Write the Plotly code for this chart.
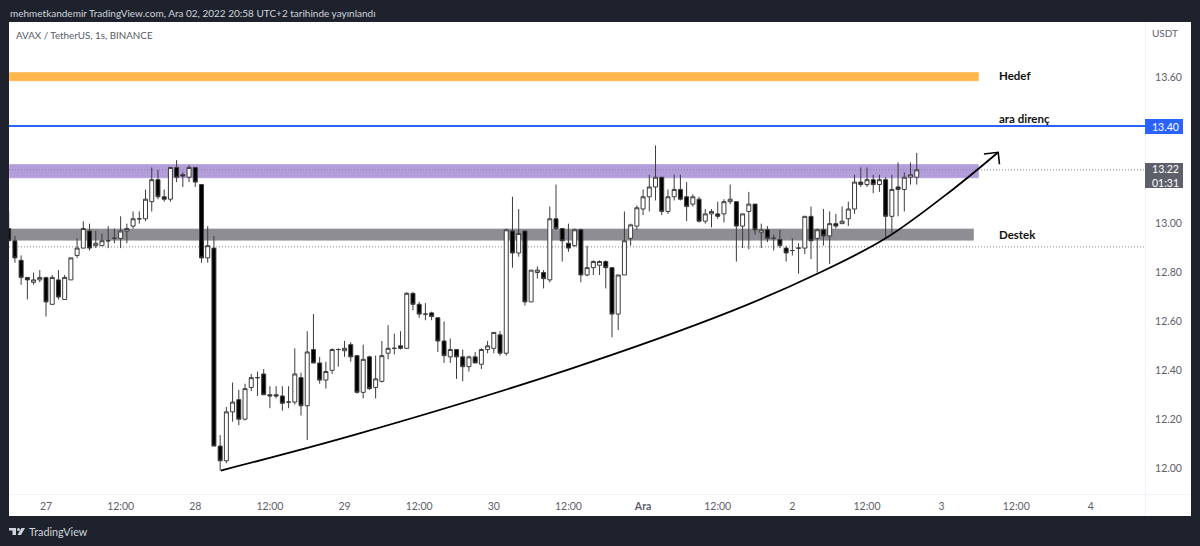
import pandas as pd
import plotly.graph_objects as go

# hourly candles, first one is 26 Nov 18:00
start_time = "2022-11-26 18:00"

opens = [
    12.98, 12.93, 12.85, 12.78, 12.76, 12.77,
    12.78, 12.67, 12.77, 12.69, 12.77, 12.87, 12.90, 12.97, 12.91, 12.91,
    12.93, 12.94, 12.94, 12.97, 12.99, 13.02, 13.02, 13.09, 13.18, 13.11,
    13.10, 13.23, 13.20, 13.19, 13.23, 13.16, 12.86, 12.90, 12.09, 12.03,
    12.23, 12.28, 12.20, 12.33, 12.37, 12.385, 12.30, 12.30, 12.295, 12.27,
    12.27, 12.37, 12.255, 12.485, 12.43, 12.36, 12.40, 12.485, 12.48, 12.505,
    12.46, 12.31, 12.455, 12.33, 12.355, 12.47, 12.49, 12.50, 12.49, 12.715,
    12.67, 12.63, 12.635, 12.615, 12.52, 12.455, 12.485, 12.455, 12.415, 12.455,
    12.425, 12.485, 12.49, 12.545, 12.47, 12.97, 12.88, 12.97, 12.68, 12.80,
    12.80, 12.77, 13.02, 12.98, 12.92, 12.91, 12.975, 12.79, 12.82, 12.83,
    12.845, 12.82, 12.63, 12.79, 12.94, 12.99, 13.06, 13.11, 13.15, 13.19,
    13.05, 13.11, 13.14, 13.11, 13.08, 13.10, 13.01, 13.04, 13.04, 13.04,
    13.09, 13.09, 12.99, 13.05, 13.08, 12.965, 12.975, 12.94, 12.935, 12.90,
    12.89, 12.90, 12.90, 13.03, 12.94, 12.975, 12.95, 13.00, 13.00, 13.02,
    13.06, 13.17, 13.16, 13.18, 13.16, 13.18, 13.03, 13.15, 13.14, 13.19,
    13.19,
]
highs = [
    13.05, 12.95, 12.87, 12.78, 12.80, 12.81,
    12.78, 12.79, 12.81, 12.79, 12.86, 12.94, 13.01, 13.00, 12.97, 12.96,
    12.99, 12.98, 13.03, 13.00, 13.05, 13.05, 13.14, 13.23, 13.22, 13.14,
    13.23, 13.26, 13.21, 13.24, 13.23, 13.16, 12.99, 12.95, 12.135, 12.25,
    12.35, 12.32, 12.345, 12.385, 12.395, 12.405, 12.335, 12.335, 12.335, 12.335,
    12.49, 12.39, 12.56, 12.63, 12.455, 12.435, 12.49, 12.49, 12.52, 12.515,
    12.46, 12.505, 12.46, 12.46, 12.52, 12.585, 12.55, 12.56, 12.72, 12.72,
    12.68, 12.675, 12.64, 12.615, 12.60, 12.53, 12.485, 12.485, 12.46, 12.475,
    12.49, 12.52, 12.555, 12.56, 12.98, 13.11, 13.06, 12.97, 12.81, 12.825,
    12.81, 13.07, 13.16, 12.98, 13.00, 12.98, 12.98, 12.91, 12.85, 12.85,
    12.85, 12.82, 12.79, 13.05, 13.00, 13.075, 13.14, 13.20, 13.32, 13.19,
    13.14, 13.20, 13.20, 13.17, 13.12, 13.11, 13.06, 13.06, 13.09, 13.10,
    13.16, 13.09, 13.04, 13.13, 13.08, 13.00, 12.99, 12.955, 12.975, 12.91,
    12.94, 12.92, 13.03, 13.07, 12.98, 13.06, 13.05, 13.04, 13.07, 13.09,
    13.20, 13.23, 13.23, 13.20, 13.20, 13.19, 13.20, 13.25, 13.21, 13.25,
    13.29,
]
lows = [
    12.93, 12.84, 12.75, 12.69, 12.75, 12.76,
    12.62, 12.67, 12.69, 12.69, 12.77, 12.86, 12.90, 12.89, 12.90, 12.91,
    12.90, 12.92, 12.90, 12.92, 12.98, 13.00, 13.01, 13.05, 13.10, 13.09,
    13.09, 13.17, 13.15, 13.17, 13.15, 12.84, 12.84, 12.09, 11.99, 12.02,
    12.19, 12.175, 12.195, 12.315, 12.295, 12.30, 12.245, 12.285, 12.235, 12.245,
    12.26, 12.215, 12.115, 12.43, 12.345, 12.325, 12.385, 12.415, 12.455, 12.435,
    12.305, 12.285, 12.32, 12.285, 12.35, 12.445, 12.465, 12.485, 12.49, 12.645,
    12.615, 12.605, 12.605, 12.475, 12.43, 12.43, 12.365, 12.355, 12.395, 12.43,
    12.405, 12.47, 12.47, 12.46, 12.46, 12.82, 12.865, 12.665, 12.68, 12.775,
    12.735, 12.76, 12.975, 12.845, 12.885, 12.905, 12.76, 12.785, 12.79, 12.79,
    12.735, 12.535, 12.565, 12.79, 12.91, 12.975, 13.035, 13.05, 13.095, 13.035,
    13.04, 13.095, 13.095, 13.01, 13.07, 13.005, 13.00, 12.985, 13.02, 13.005,
    13.08, 12.845, 12.90, 12.895, 12.955, 12.90, 12.925, 12.89, 12.90, 12.845,
    12.87, 12.795, 12.875, 12.855, 12.80, 12.91, 12.835, 12.98, 13.00, 12.99,
    13.04, 13.15, 13.15, 13.125, 13.13, 12.94, 12.96, 13.03, 13.05, 13.16,
    13.16,
]
closes = [
    12.93, 12.86, 12.78, 12.77, 12.77, 12.78,
    12.68, 12.78, 12.70, 12.78, 12.86, 12.90, 12.98, 12.90, 12.92, 12.93,
    12.93, 12.94, 12.97, 12.98, 13.02, 13.02, 13.10, 13.18, 13.11, 13.10,
    13.23, 13.19, 13.195, 13.23, 13.17, 12.86, 12.91, 12.09, 12.03, 12.23,
    12.27, 12.20, 12.325, 12.37, 12.37, 12.30, 12.295, 12.295, 12.265, 12.27,
    12.385, 12.255, 12.475, 12.43, 12.36, 12.395, 12.485, 12.485, 12.49, 12.455,
    12.31, 12.445, 12.325, 12.365, 12.46, 12.49, 12.49, 12.49, 12.715, 12.67,
    12.63, 12.63, 12.62, 12.52, 12.46, 12.485, 12.455, 12.415, 12.455, 12.43,
    12.485, 12.50, 12.555, 12.47, 12.975, 12.88, 12.96, 12.68, 12.81, 12.81,
    12.775, 13.02, 12.98, 12.93, 12.90, 12.975, 12.79, 12.82, 12.845, 12.845,
    12.82, 12.63, 12.79, 12.93, 12.995, 13.065, 13.11, 13.15, 13.19, 13.05,
    13.11, 13.14, 13.10, 13.07, 13.11, 13.01, 13.04, 13.05, 13.03, 13.09,
    13.10, 12.99, 13.04, 13.08, 12.975, 12.975, 12.94, 12.94, 12.91, 12.88,
    12.89, 12.90, 13.03, 12.93, 12.975, 12.95, 13.00, 12.99, 13.01, 13.06,
    13.17, 13.16, 13.18, 13.16, 13.18, 13.03, 13.14, 13.14, 13.19, 13.20,
    13.22,
]

# drawn levels on the chart
target_band = [13.583, 13.62]
resistance_band = [13.186, 13.244]
support_band = [12.93, 12.98]
resistance_line = 13.40
last_price = 13.22
prev_close = 12.905

# hand drawn curve and its arrow head
curve_times = [
    "2022-11-28 04:06", "2022-11-29 02:00", "2022-11-30 12:12", "2022-12-01 14:00",
    "2022-12-02 04:00", "2022-12-02 15:00", "2022-12-03 01:48", "2022-12-03 09:00",
]
curve_prices = [11.99, 12.139, 12.405, 12.64, 12.795, 12.94, 13.14, 13.29]
head_times = ["2022-12-03 06:48", "2022-12-03 09:06", "2022-12-03 09:18"]
head_prices = [13.285, 13.292, 13.243]

time_ticks = [
    "2022-11-27 00:00", "2022-11-27 12:00", "2022-11-28 00:00", "2022-11-28 12:00",
    "2022-11-29 00:00", "2022-11-29 12:00", "2022-11-30 00:00", "2022-11-30 12:00",
    "2022-12-01 00:00", "2022-12-01 12:00", "2022-12-02 00:00", "2022-12-02 12:00",
    "2022-12-03 00:00", "2022-12-03 12:00", "2022-12-04 00:00",
]
time_labels = [
    "27", "12:00", "28", "12:00", "29", "12:00", "30", "12:00",
    "<b>Ara</b>", "12:00", "2", "12:00", "3", "12:00", "4",
]
price_ticks = [12.0, 12.2, 12.4, 12.6, 12.8, 13.0, 13.6]
price_labels = ["12.00", "12.20", "12.40", "12.60", "12.80", "13.00", "13.60"]

x_range = ["2022-11-26 18:03", "2022-12-04 08:42"]
y_range = [11.894, 13.825]
band_end = "2022-12-03 06:00"
support_end = "2022-12-03 05:12"
note_time = "2022-12-03 08:54"

W, H = 1200, 546
LEFT, RIGHT, TOP, BOTTOM = 9, 1145, 22, 494
FONT = "Lato"
DARK = "#1e222d"


def px(x):
    return (x - LEFT) / (RIGHT - LEFT)


def py(y):
    return (BOTTOM - y) / (BOTTOM - TOP)


def label(text, x, y, color, size=10.5, anchor="left", **kw):
    return dict(
        text=text, xref="paper", yref="paper", x=px(x), y=py(y),
        xanchor=anchor, yanchor="middle", showarrow=False,
        font=dict(family=FONT, size=size, color=color), **kw
    )


def band(y_vals, color, end):
    return dict(
        type="rect", xref="x", yref="y", x0=x_range[0], x1=end,
        y0=y_vals[0], y1=y_vals[1], fillcolor=color,
        line=dict(color="rgba(255,255,255,0.35)", width=1), layer="below"
    )


def dotted(price):
    return dict(
        type="line", xref="x", yref="y", x0=x_range[0], x1=x_range[1],
        y0=price, y1=price, line=dict(color="#82858f", width=1, dash="1px,2px"),
        layer="below"
    )


def paper_rect(x0, y0, x1, y1, color, layer="below"):
    return dict(
        type="rect", xref="paper", yref="paper",
        x0=px(x0), x1=px(x1), y0=py(y0), y1=py(y1),
        fillcolor=color, line=dict(width=0), layer=layer
    )


times = pd.date_range(start_time, periods=len(opens), freq="h")

fig = go.Figure()

fig.add_trace(go.Candlestick(
    x=times, open=opens, high=highs, low=lows, close=closes,
    increasing=dict(line=dict(color="#3c3c3c", width=1), fillcolor="#ffffff"),
    decreasing=dict(line=dict(color="#3c3c3c", width=1), fillcolor="#000000"),
    whiskerwidth=0, showlegend=False, hoverinfo="skip"
))

fig.add_trace(go.Scatter(
    x=curve_times, y=curve_prices, mode="lines",
    line=dict(color="#000000", width=1.8, shape="spline"),
    showlegend=False, hoverinfo="skip"
))
fig.add_trace(go.Scatter(
    x=head_times, y=head_prices, mode="lines",
    line=dict(color="#000000", width=1.6),
    showlegend=False, hoverinfo="skip"
))
fig.add_trace(go.Scatter(
    x=x_range, y=[resistance_line, resistance_line], mode="lines",
    line=dict(color="#2962ff", width=2),
    showlegend=False, hoverinfo="skip"
))

shapes = [
    # white parts of the panel outside the plot area
    paper_rect(RIGHT, TOP, 1191, 516, "#ffffff"),
    paper_rect(LEFT, BOTTOM, 1191, 516, "#ffffff"),
    paper_rect(RIGHT, TOP, RIGHT + 1, 516, "#f0f3fa"),
    paper_rect(LEFT, BOTTOM, 1191, BOTTOM + 1, "#f0f3fa"),
    band(target_band, "#ffb74d", band_end),
    band(resistance_band, "#b39ddb", band_end),
    band(support_band, "#8d8d93", support_end),
    dotted(last_price),
    dotted(prev_close),
    # price tags on the axis
    paper_rect(RIGHT, 119, 1183, 134, "#2962ff", layer="above"),
    paper_rect(RIGHT, 163, 1183, 188, "#5d606b", layer="above"),
    # TradingView logo
    paper_rect(9, 528, 16, 530.5, "#d1d4dc", layer="above"),
    paper_rect(12.5, 528, 16, 535, "#d1d4dc", layer="above"),
    dict(
        type="circle", xref="paper", yref="paper",
        x0=px(17), x1=px(20), y0=py(531), y1=py(528),
        fillcolor="#d1d4dc", line=dict(width=0)
    ),
    dict(
        type="path", xref="paper", yref="paper",
        path=(
            f"M {px(21.5)} {py(528)} L {px(25)} {py(528)} "
            f"L {px(21)} {py(535)} L {px(17.5)} {py(535)} Z"
        ),
        fillcolor="#d1d4dc", line=dict(width=0)
    ),
]

annotations = [
    label("mehmetkandemir TradingView.com, Ara 02, 2022 20:58 UTC+2 tarihinde yayınlandı",
          8, 13, "#d1d4dc", size=10),
    label("AVAX / TetherUS, 1s, BINANCE", 14, 35, "#555a66", size=9.8),
    label("USDT", 1165, 33, "#5d606b", size=10, anchor="center"),
    label("13.40", 1165, 127, "#ffffff", size=10.5, anchor="center"),
    label("13.22<br>01:31", 1165, 176, "#ffffff", size=10.5, anchor="center"),
    label("TradingView", 27, 531, "#d1d4dc", size=10.8),
]
for text, price in [("Hedef", 13.605), ("ara direnç", 13.43), ("Destek", 12.955)]:
    annotations.append(dict(
        text=f"<b>{text}</b>", xref="x", yref="y", x=note_time, y=price,
        xanchor="left", yanchor="middle", showarrow=False,
        font=dict(family=FONT, size=11.5, color="#111111")
    ))

fig.update_layout(
    width=W,
    height=H,
    autosize=False,
    margin=dict(l=LEFT, r=W - RIGHT, t=TOP, b=H - BOTTOM, pad=0),
    paper_bgcolor=DARK,
    plot_bgcolor="#ffffff",
    font=dict(family=FONT, size=10.5, color="#5d606b"),
    shapes=shapes,
    annotations=annotations,
    showlegend=False,
    boxgap=0.2,
    boxgroupgap=0.2,
    xaxis=dict(
        type="date", range=x_range, tickmode="array",
        tickvals=time_ticks, ticktext=time_labels,
        showgrid=False, zeroline=False, showline=False,
        ticks="outside", ticklen=2, tickcolor="rgba(0,0,0,0)",
        rangeslider=dict(visible=False), tickangle=0
    ),
    yaxis=dict(
        side="right", range=y_range, tickmode="array",
        tickvals=price_ticks, ticktext=price_labels,
        showgrid=False, zeroline=False, showline=False,
        ticks="outside", ticklen=7, tickcolor="rgba(0,0,0,0)"
    ),
)

fig.write_html(
    "out.html",
    config={"displayModeBar": False},
    post_script="document.body.style.margin='0';"
)
